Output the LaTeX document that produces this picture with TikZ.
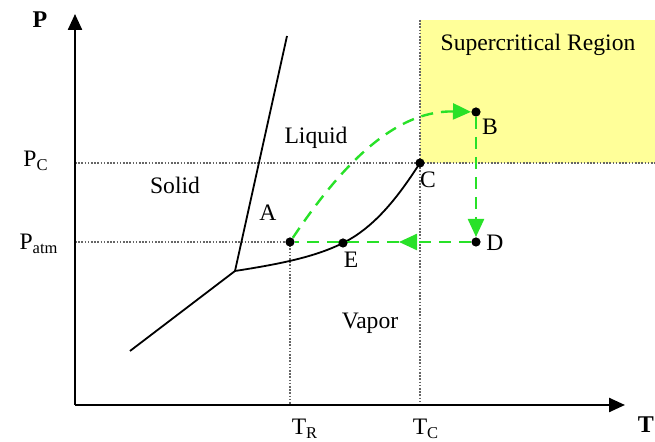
\documentclass[tikz,border=0pt]{standalone}
\usepackage{fontspec}
\setmainfont{Liberation Serif}
\usetikzlibrary{arrows.meta}

\definecolor{scyellow}{RGB}{255,255,153}
\definecolor{routegreen}{RGB}{40,225,40}

\begin{document}
\begin{tikzpicture}[x=0.5pt, y=-0.5pt,
    lbl/.style={font=\fontsize{11.8}{14}\selectfont, inner sep=1pt},
    axis/.style={line width=1.2pt, -{Triangle[length=8pt,width=7pt]}},
    guide/.style={gray!80!black, line width=0.8pt, dash pattern=on 0.8pt off 0.8pt},
    phase/.style={line width=0.9pt},
    route/.style={routegreen, line width=1.2pt, dash pattern=on 6pt off 4pt},
    routetip/.style={-{Triangle[length=9pt,width=8pt]}},
    statept/.style={circle, inner sep=0pt, minimum size=4.6pt}]

    \useasboundingbox (0,0) rectangle (655,442);

    % ==========================================
    % SUPERCRITICAL REGION (background)
    % ==========================================
    \fill[scyellow] (420,20) rectangle (655,163);

    % ==========================================
    % KEY POINTS
    % ==========================================
    \coordinate (origin) at (75,405);
    \coordinate (ytip) at (75,14);
    \coordinate (xtip) at (625,405);
    \coordinate (triple) at (235,271);
    \coordinate (fusiontop) at (287,36);
    \coordinate (sublow) at (130,351);
    \coordinate (pcleft) at (75,163);
    \coordinate (pcright) at (655,163);
    \coordinate (patmleft) at (75,242);
    \coordinate (tctop) at (420,20);
    \coordinate (tcfoot) at (420,405);
    \coordinate (trfoot) at (290,405);
    \coordinate (midarr) at (399,242);

    \node[statept] (A) at (290,242) {};
    \node[statept] (E) at (343,243) {};
    \node[statept] (C) at (420,163) {};
    \node[statept] (B) at (476,112) {};
    \node[statept] (D) at (476,242) {};

    % ==========================================
    % DOTTED GUIDE LINES
    % ==========================================
    \draw[guide] (pcleft) -- (pcright);
    \draw[guide] (tctop) -- (tcfoot);
    \draw[guide] (patmleft) -- (A.center);
    \draw[guide] (A.center) -- (trfoot);

    % ==========================================
    % AXES
    % ==========================================
    \draw[axis] (origin) -- (ytip);
    \draw[axis] (origin) -- (xtip);

    % ==========================================
    % PHASE BOUNDARIES
    % ==========================================
    \draw[phase] (sublow) -- (triple);
    \draw[phase] (triple) -- (fusiontop);
    \draw[phase] (triple) .. controls (280,264) and (315,257) .. (E.center)
                          .. controls (375,227) and (398,197) .. (C.center);

    % ==========================================
    % PROCESS ROUTE (green)
    % ==========================================
    \draw[route, routetip] (A) .. controls (335,175) and (390,110) .. (B);
    \draw[route, routetip] (B) -- (D);
    \draw[route, routetip] (D) -- (midarr);
    \draw[route] (midarr) -- (A);

    % state points on top
    \foreach \p in {A,E,C,B,D}
        \fill (\p.center) circle (2.3pt);

    % ==========================================
    % LABELS
    % ==========================================
    \node[lbl, font=\fontsize{12}{14}\selectfont\bfseries] (plabel) at (40,20) {P};
    \node[lbl, font=\fontsize{12}{14}\selectfont\bfseries] (tlabel) at (646,425) {T};
    \node[lbl] (pclabel) at (36,161) {P\textsubscript{C}};
    \node[lbl] (patmlabel) at (39,244) {P\textsubscript{atm}};
    \node[lbl] (trlabel) at (305,429) {T\textsubscript{R}};
    \node[lbl] (tclabel) at (426,429) {T\textsubscript{C}};

    \node[lbl] (scregion) at (538,45) {Supercritical Region};
    \node[lbl] (liquid) at (316,138) {Liquid};
    \node[lbl] (solid) at (175,185) {Solid};
    \node[lbl] (vapor) at (370,323) {Vapor};

    \node[lbl] (alabel) at (268,213) {A};
    \node[lbl] (elabel) at (351,260) {E};
    \node[lbl] (clabel) at (428,180) {C};
    \node[lbl] (blabel) at (490,127) {B};
    \node[lbl] (dlabel) at (495,243) {D};

\end{tikzpicture}
\end{document}
